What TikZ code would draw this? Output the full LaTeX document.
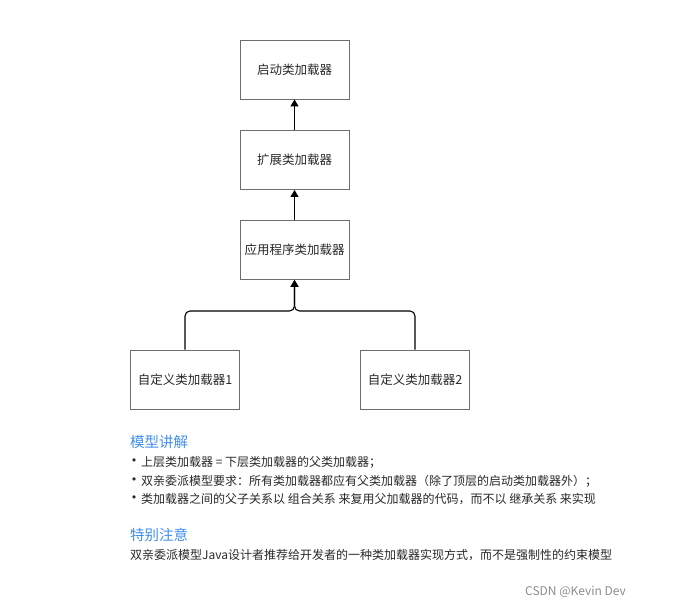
\documentclass[tikz,border=0pt]{standalone}
\usepackage{fontspec}
\setmainfont{Noto Sans CJK SC}
\newfontfamily\bulletfont{DejaVu Sans}
\usetikzlibrary{arrows.meta}
\definecolor{boxline}{RGB}{110,110,110}
\definecolor{titleblue}{RGB}{64,142,240}
\definecolor{bodytext}{RGB}{40,40,40}
\tikzset{
  loader/.style={draw=boxline, line width=0.9pt, minimum width=109pt, minimum height=59pt, inner sep=0pt, text=bodytext, font=\fontsize{12.5}{15}\selectfont},
  parentarrow/.style={draw=black, line width=1.1pt, -{Triangle[width=8pt,length=7pt]}},
  txt/.style={anchor=west, inner sep=0pt, text=bodytext, font=\fontsize{12}{14}\selectfont},
  bul/.style={anchor=center, inner sep=0pt, text=bodytext, font=\bulletfont\fontsize{11}{14}\selectfont},
  heading/.style={anchor=west, inner sep=0pt, text=titleblue, font=\fontsize{14.5}{17}\selectfont}
}
\begin{document}
\begin{tikzpicture}[x=1pt,y=-1pt]
\useasboundingbox (0,0) rectangle (690,608);
\node[loader] (boot) at (294.5,69.5) {启动类加载器};
\node[loader] (ext) at (294.5,160) {扩展类加载器};
\node[loader] (app) at (294.5,250) {应用程序类加载器};
\node[loader] (c1) at (185,379.5) {自定义类加载器1};
\node[loader] (c2) at (415,379.5) {自定义类加载器2};
\coordinate (j) at (294.5,311);
\draw[parentarrow] (ext.north) -- (boot.south);
\draw[parentarrow] (app.north) -- (ext.south);
\draw[parentarrow, rounded corners=5pt] (c1.north) |- (j) -- (app.south);
\draw[parentarrow, rounded corners=5pt] (c2.north) |- (j) -- (app.south);
\node[heading] (h1) at (130,442) {模型讲解};
\node[bul] (b1) at (134,462) {•};
\node[txt] (l1) at (141,462) {上层类加载器 = 下层类加载器的父类加载器；};
\node[bul] (b2) at (134,481) {•};
\node[txt] (l2) at (141,481) {双亲委派模型要求：所有类加载器都应有父类加载器（除了顶层的启动类加载器外）；};
\node[bul] (b3) at (134,499) {•};
\node[txt] (l3) at (141,499) {类加载器之间的父子关系以 组合关系 来复用父加载器的代码，而不以 继承关系 来实现};
\node[heading] (h2) at (130,535) {特别注意};
\node[txt] (note) at (130,555) {双亲委派模型Java设计者推荐给开发者的一种类加载器实现方式，而不是强制性的约束模型};
\node[txt, text=black!45] (wm) at (525,592) {CSDN @Kevin Dev};
\end{tikzpicture}
\end{document}
